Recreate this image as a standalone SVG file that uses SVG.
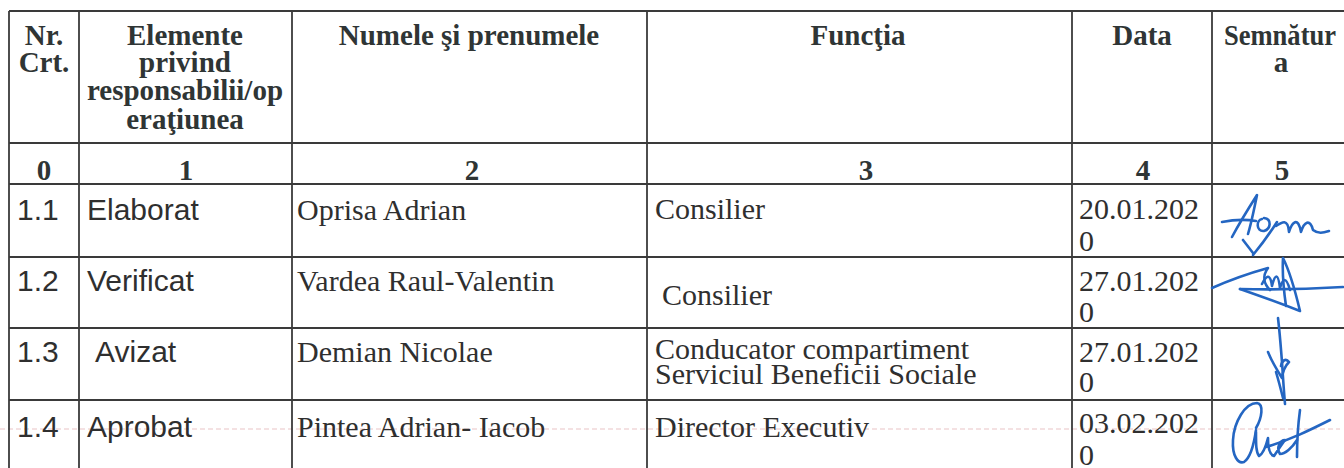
<svg xmlns="http://www.w3.org/2000/svg" width="1344" height="468" viewBox="0 0 1344 468">
<style>
.grid line{stroke:#3a3a3a;stroke-width:1.8}
.h{font-family:"Liberation Serif","Times New Roman",serif;font-weight:bold;font-size:29px;fill:#2f3535;text-anchor:middle}
.t{font-family:"Liberation Serif","Times New Roman",serif;font-size:30px;fill:#2f2f2f}
.a{font-family:"Liberation Sans",Arial,sans-serif;font-size:30px;fill:#2f2f2f}
.sig{fill:none;stroke:#2466c2;stroke-width:2.6;stroke-linecap:round;stroke-linejoin:round}
</style>
<rect width="1344" height="468" fill="#ffffff"/>
<line x1="0" y1="429" x2="1340" y2="429" stroke="#e6b8bc" stroke-width="1.5" stroke-dasharray="5 3" opacity="0.55"/>
<g id="grid" class="grid">
<line x1="9" y1="11" x2="1352" y2="11"/>
<line x1="9" y1="143" x2="1352" y2="143"/>
<line x1="9" y1="184" x2="1352" y2="184"/>
<line x1="9" y1="257" x2="1352" y2="257"/>
<line x1="9" y1="328" x2="1352" y2="328"/>
<line x1="9" y1="400" x2="1352" y2="400"/>
<line x1="9" y1="11" x2="9" y2="468"/>
<line x1="79" y1="11" x2="79" y2="468"/>
<line x1="292" y1="11" x2="292" y2="468"/>
<line x1="647" y1="11" x2="647" y2="468"/>
<line x1="1072" y1="11" x2="1072" y2="468"/>
<line x1="1212" y1="11" x2="1212" y2="468"/>
</g>
<g id="header">
<text class="h" x="44" y="45">Nr.</text>
<text class="h" x="44" y="72">Crt.</text>
<text class="h" x="185" y="45">Elemente</text>
<text class="h" x="185" y="72">privind</text>
<text class="h" x="185" y="100">responsabilii/op</text>
<text class="h" x="185" y="129">eraţiunea</text>
<text class="h" x="469" y="45">Numele şi prenumele</text>
<text class="h" x="858" y="45">Funcţia</text>
<text class="h" x="1142" y="45">Data</text>
<text class="h" x="1280" y="45" textLength="112" lengthAdjust="spacingAndGlyphs">Semnătur</text>
<text class="h" x="1281" y="72">a</text>
</g>
<g id="numbers">
<text class="h" x="44" y="180">0</text>
<text class="h" x="186" y="180">1</text>
<text class="h" x="472" y="180">2</text>
<text class="h" x="866" y="180">3</text>
<text class="h" x="1143" y="180">4</text>
<text class="h" x="1282" y="180">5</text>
</g>
<g id="row1">
<text class="a" x="17" y="220">1.1</text>
<text class="a" x="87" y="220">Elaborat</text>
<text class="t" x="297" y="220">Oprisa Adrian</text>
<text class="t" x="655" y="219">Consilier</text>
<text class="t" x="1079" y="219">20.01.202</text>
<text class="t" x="1079" y="251">0</text>
</g>
<g id="row2">
<text class="a" x="17" y="291">1.2</text>
<text class="a" x="87" y="291">Verificat</text>
<text class="t" x="297" y="291">Vardea Raul-Valentin</text>
<text class="t" x="662" y="305">Consilier</text>
<text class="t" x="1079" y="291">27.01.202</text>
<text class="t" x="1079" y="322">0</text>
</g>
<g id="row3">
<text class="a" x="17" y="362">1.3</text>
<text class="a" x="95" y="362">Avizat</text>
<text class="t" x="297" y="362">Demian Nicolae</text>
<text class="t" x="655" y="359">Conducator compartiment</text>
<text class="t" x="655" y="384">Serviciul Beneficii Sociale</text>
<text class="t" x="1079" y="362">27.01.202</text>
<text class="t" x="1079" y="392">0</text>
</g>
<g id="row4">
<text class="a" x="17" y="437">1.4</text>
<text class="a" x="87" y="437">Aprobat</text>
<text class="t" x="297" y="437">Pintea Adrian- Iacob</text>
<text class="t" x="655" y="437">Director Executiv</text>
<text class="t" x="1079" y="433">03.02.202</text>
<text class="t" x="1079" y="465">0</text>
</g>
<g id="signatures" class="sig">
<path d="M1232,237 C1240,222 1250,206 1257,195 C1254,210 1251,224 1248,234"/>
<path d="M1222,222 C1232,220 1244,219 1256,221"/>
<path d="M1262,219 C1256,220 1256,232 1264,231 C1271,229 1272,219 1264,218"/>
<path d="M1277,222 C1270,233 1262,244 1253,255 M1243,240 L1253,253"/>
<path d="M1276,226 C1282,222 1288,218 1289,232 C1292,222 1298,216 1301,232 C1304,222 1310,218 1313,230 C1318,234 1323,233 1329,231"/>
<path d="M1212,288 C1230,280 1250,273 1268,268 C1262,276 1264,284 1270,290"/>
<path d="M1240,289 C1280,290 1310,289 1343,287"/>
<path d="M1240,289 C1260,296 1282,304 1300,311 C1295,290 1290,272 1283,258 C1282,275 1284,292 1286,306"/>
<path d="M1262,284 C1266,276 1270,272 1272,286 C1275,274 1278,272 1280,288 C1283,278 1286,276 1290,290"/>
<path d="M1278,318 C1280,335 1281,350 1282,362 C1283,378 1284,392 1285,404"/>
<path d="M1268,352 C1272,362 1277,370 1282,378 C1283,370 1286,365 1289,362 C1286,358 1282,360 1281,366"/>
<path d="M1276,372 C1279,382 1281,390 1283,398"/>
<path d="M1256,428 C1262,418 1264,404 1257,403 C1245,403 1234,422 1233,440 C1232,456 1238,464 1244,462 C1250,458 1254,444 1256,430"/>
<path d="M1256,432 C1256,445 1256,452 1259,456 C1263,454 1266,446 1268,438 C1268,448 1270,455 1274,456 C1278,450 1282,444 1285,440 C1280,440 1276,448 1280,454 C1285,454 1292,448 1297,440"/>
<path d="M1300,410 C1298,425 1297,440 1297,457"/>
<path d="M1266,447 C1290,440 1310,430 1330,420"/>
</g>
</svg>
